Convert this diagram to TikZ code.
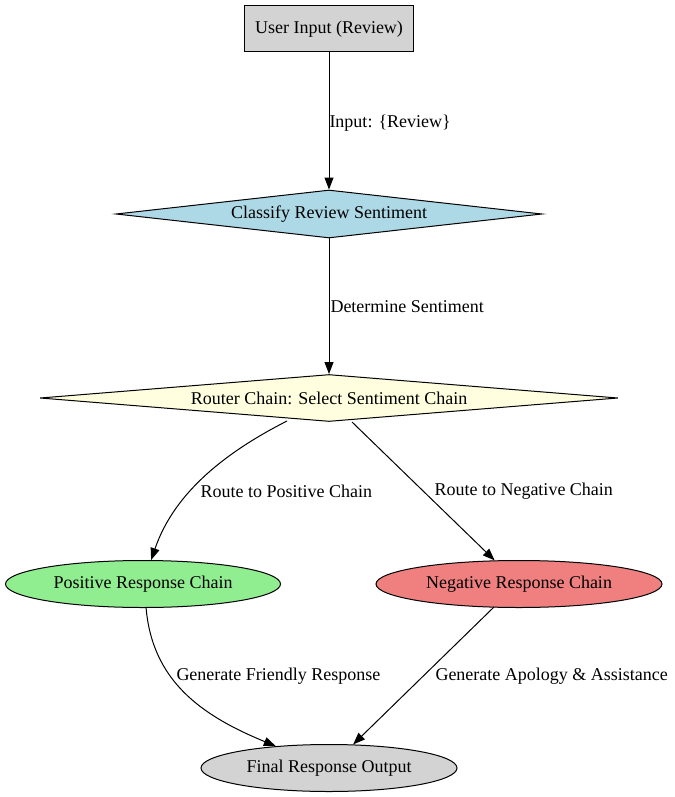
\documentclass[tikz,border=0pt]{standalone}
\usepackage{fontspec}
\setmainfont{Liberation Serif}
\usepackage{tikz}
\usetikzlibrary{arrows.meta,shapes.geometric}
\tikzset{>={Triangle[length=12pt,width=9pt]}}
\definecolor{boxgray}{HTML}{D3D3D3}
\definecolor{diablue}{HTML}{ADD8E6}
\definecolor{diayellow}{HTML}{FFFFE0}
\definecolor{ellgreen}{HTML}{90EE90}
\definecolor{ellred}{HTML}{F08080}
\tikzset{
  every node/.style={font=\fontsize{18}{20}\selectfont},
  inbox/.style={draw,fill=boxgray,minimum width=169pt,minimum height=46pt},
  decide/.style={draw,diamond,aspect=9,inner sep=0pt},
  chain/.style={draw,ellipse,inner sep=0pt,minimum height=47pt},
  lbl/.style={anchor=west,inner sep=0pt},
}

\begin{document}
\begin{tikzpicture}[x=1pt,y=-1pt,line width=1pt]
\useasboundingbox (0,0) rectangle (674,797);
% nodes
\node[inbox] (user) at (329,29) {User Input (Review)};
\node[decide,fill=diablue,minimum width=426pt,minimum height=48pt] (classify) at (329,214) {Classify Review Sentiment};
\node[decide,fill=diayellow,minimum width=578pt,minimum height=47pt] (router) at (329,398) {Router Chain: Select Sentiment Chain};
\node[chain,fill=ellgreen,minimum width=275pt] (pos) at (143,584) {Positive Response Chain};
\node[chain,fill=ellred,minimum width=286pt] (neg) at (519,584) {Negative Response Chain};
\node[chain,fill=boxgray,minimum width=256pt] (final) at (329,768) {Final Response Output};
% edges
\draw[->] (user) -- (classify);
\node[lbl] (l1) at (329,123) {Input: \{Review\}};
\draw[->] (classify) -- (router);
\node[lbl] (l2) at (330,307) {Determine Sentiment};
\draw[->] (287,421) .. controls (230,450) and (175,490) .. (pos);
\node[lbl] (l3) at (200,491) {Route to Positive Chain};
\draw[->] (352,422) -- (neg);
\node[lbl] (l4) at (434,491) {Route to Negative Chain};
\draw[->] (146,607) .. controls (152,680) and (200,715) .. (final);
\node[lbl] (l5) at (176,676) {Generate Friendly Response};
\draw[->] (494,607) -- (final);
\node[lbl] (l6) at (435,676) {Generate Apology \& Assistance};
\end{tikzpicture}
\end{document}
